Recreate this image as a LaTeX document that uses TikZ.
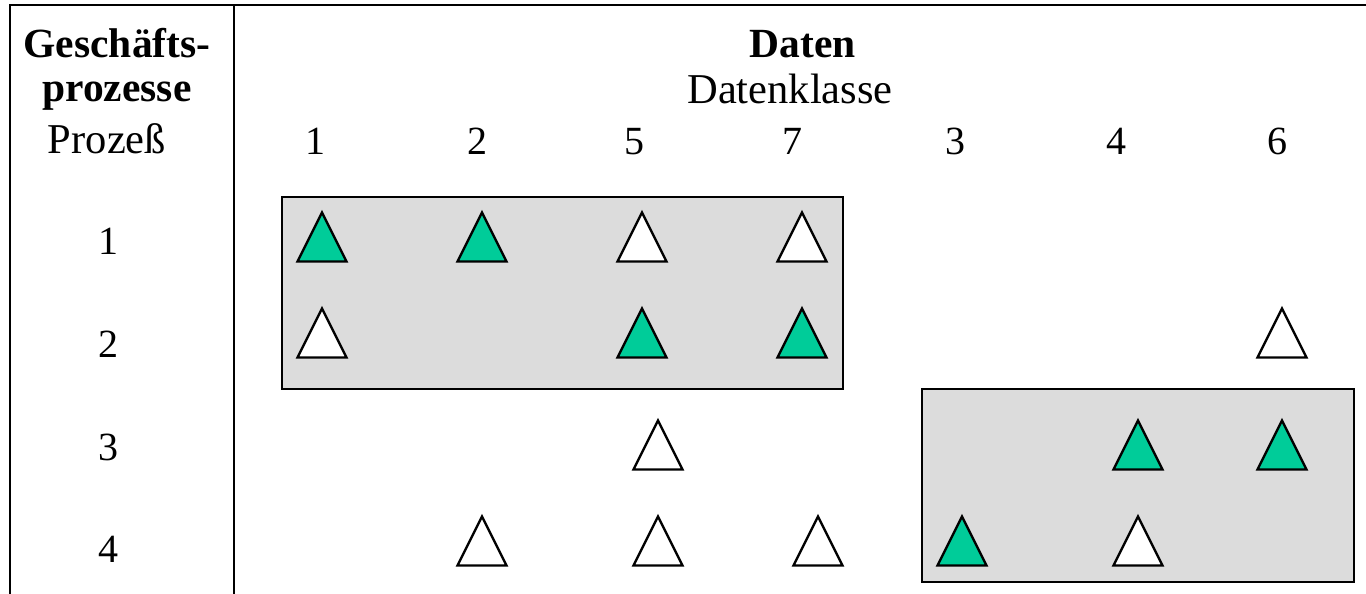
\documentclass[tikz,border=0pt]{standalone}
\usepackage{fontspec}
\setmainfont{Liberation Serif}
\definecolor{usegreen}{RGB}{0,204,153}
\definecolor{groupgray}{RGB}{220,220,220}
\begin{document}
\begin{tikzpicture}[x=1pt,y=-1pt,
  txt/.style={anchor=base,inner sep=0pt,font=\fontsize{40}{48}\selectfont},
  wtxt/.style={txt,font=\fontsize{42.5}{50}\selectfont},
  btxt/.style={txt,font=\fontsize{41.5}{50}\selectfont\bfseries},
  frame/.style={line width=2.5pt},
  group/.style={draw=black,fill=groupgray,line width=2.2pt},
  pics/datatri/.style={code={
    \draw[line width=2.3pt,line join=miter,fill=#1]
      (-24.5,24.5) -- (0,-24.5) -- (24.5,24.5) -- cycle;}}]
\useasboundingbox (0,0) rectangle (1366,594);

% table frame
\draw[frame] (9,5) -- (1366,5);
\draw[frame] (10,5) -- (10,594);
\draw[frame] (234,5) -- (234,594);

% grouping boxes
\draw[group] (282,197) rectangle (843,389);
\draw[group] (922,389) rectangle (1354,582);

% left header
\node[btxt] (gp1) at (117,58) {Geschäfts-};
\node[btxt] (gp2) at (117,101) {prozesse};
\node[wtxt] (proz) at (107,153) {Prozeß};

% right header
\node[btxt] (daten) at (803,58) {Daten};
\node[wtxt] (dk) at (790,103) {Datenklasse};
\foreach \lab/\x in {1/315,2/477,5/634,7/792,3/955,4/1116,6/1277}
  \node[txt] (col\lab) at (\x,154) {\lab};

% process rows
\foreach \lab/\y in {1/254,2/357,3/460,4/562}
  \node[txt] (row\lab) at (108,\y) {\lab};

% usage marks: green = creates, white = uses
\foreach \x/\y/\c in {
  322/237/usegreen, 482/237/usegreen, 642/237/white, 802/237/white,
  322/333/white, 642/333/usegreen, 802/333/usegreen, 1282/333/white,
  658/445/white, 1138/445/usegreen, 1282/445/usegreen,
  482/541/white, 658/541/white, 818/541/white, 962/541/usegreen, 1138/541/white}
  \pic at (\x,\y) {datatri=\c};
\end{tikzpicture}
\end{document}
